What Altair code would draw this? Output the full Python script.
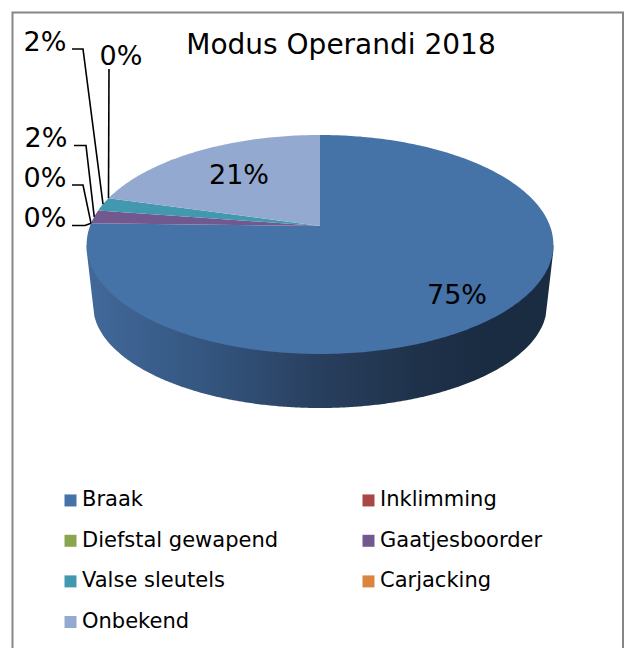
import numpy as np
import pandas as pd
import altair as alt

categories = ["Braak", "Inklimming", "Diefstal gewapend", "Gaatjesboorder",
              "Valse sleutels", "Carjacking", "Onbekend"]
values = [75.4, 0.0, 0.0, 2.0, 2.0, 0.0, 20.6]
colors = ["#4572A7", "#AA4643", "#89A54E", "#71588F", "#4198AF", "#DB843D", "#93A9CF"]
shown = ["75%", "0%", "0%", "2%", "2%", "0%", "21%"]

# layout of the drawing (perspective of the pie, and manual label placement)
CX, CY, A, B, K = 320.0, 226.0, 230.0, 106.4, 0.169
DEPTH_CY, DEPTH_RX, DEPTH_RY = 305.0, 227.0, 103.0
label_xy = {"Braak": (457, 296), "Inklimming": (45, 219), "Diefstal gewapend": (45, 179),
            "Gaatjesboorder": (46, 139), "Valse sleutels": (45, 43),
            "Carjacking": (121, 57), "Onbekend": (239, 176)}
leader_elbow = {"Inklimming": [(72, 225.5), (85, 225.5)],
                "Diefstal gewapend": [(72, 185), (83, 185)],
                "Gaatjesboorder": [(74, 145.5), (86, 145.5)],
                "Valse sleutels": [(72, 49), (83, 49)],
                "Carjacking": [(109, 69)]}


def rim(fraction):
    t = 2 * np.pi * fraction
    u, v = np.sin(t), -np.cos(t)
    d = 1 - K * v
    return CX + A * u / d, CY + B * v / d


def wedge_rows():
    rows, start = [], 0.0
    for name, val in zip(categories, values):
        end = start + val / 100
        fr = np.linspace(start, end, max(3, int(val * 4)))
        pts = [(CX, CY)] + [rim(f) for f in fr] + [(CX, CY)]
        rows += [{"name": name, "i": i, "x": p[0], "y": p[1]} for i, p in enumerate(pts)]
        start = end
    return pd.DataFrame(rows)


def leader_rows():
    rows, start = [], 0.0
    for name, val in zip(categories, values):
        mid = start + val / 200
        start += val / 100
        if name in leader_elbow:
            pts = leader_elbow[name] + [rim(mid)]
            rows += [{"name": name, "i": i, "x": p[0], "y": p[1]} for i, p in enumerate(pts)]
    return pd.DataFrame(rows)


def side_rows():
    xs = np.linspace(CX - 233.4, CX + 233.4, 240)
    rows = []
    for x in xs:
        dx = abs(x - CX)
        if dx < DEPTH_RX:
            low = DEPTH_CY + DEPTH_RY * np.sqrt(1 - (dx / DEPTH_RX) ** 2)
        else:
            low = DEPTH_CY - (dx - DEPTH_RX) / (233.4 - DEPTH_RX) * 55
        rows.append({"x": x, "y": 245.0, "y2": low})
    return pd.DataFrame(rows)


xs = alt.X("x:Q", scale=alt.Scale(domain=[8, 624], nice=False, zero=False), axis=None)
ys = alt.Y("y:Q", scale=alt.Scale(domain=[648, 8], nice=False, zero=False), axis=None)

side = alt.Chart(side_rows()).mark_area(
    color=alt.Gradient(gradient="linear", x1=0, x2=1, y1=0, y2=0, stops=[
        alt.GradientStop(offset=0, color="#42699b"),
        alt.GradientStop(offset=0.25, color="#345680"),
        alt.GradientStop(offset=0.5, color="#283f5e"),
        alt.GradientStop(offset=0.72, color="#1e3149"),
        alt.GradientStop(offset=0.85, color="#1a2c42"),
        alt.GradientStop(offset=1, color="#1a2c42")])
).encode(x=xs, y=ys, y2="y2:Q")

wedges = alt.Chart(wedge_rows()).mark_line(strokeWidth=0).encode(
    x=xs, y=ys, order="i:Q",
    detail="name:N",
    fill=alt.Fill("name:N",
                  scale=alt.Scale(domain=categories, range=colors),
                  legend=alt.Legend(orient="none", legendX=52, legendY=481.7, columns=2,
                                    direction="horizontal",
                                    title=None, symbolType="square", symbolSize=144,
                                    symbolStrokeWidth=0, symbolOpacity=1,
                                    labelFont="DejaVu Sans", labelFontSize=21,
                                    labelColor="#000000", labelOffset=1, labelLimit=300,
                                    columnPadding=79, rowPadding=18.6, padding=0)))

leaders = alt.Chart(leader_rows()).mark_line(color="#000000", strokeWidth=1.6).encode(
    x=xs, y=ys, order="i:Q", detail="name:N")

lab = pd.DataFrame([{"t": s, "x": label_xy[c][0], "y": label_xy[c][1]}
                    for c, s in zip(categories, shown)])
labels = alt.Chart(lab).mark_text(font="DejaVu Sans", fontSize=27, color="#000000").encode(
    x=xs, y=ys, text="t:N")

title = alt.Chart(pd.DataFrame([{"t": "Modus Operandi 2018", "x": 341, "y": 46}])).mark_text(
    font="DejaVu Sans", fontSize=28, color="#000000").encode(x=xs, y=ys, text="t:N")

border_df = pd.DataFrame({"i": [0, 1, 2, 3], "x": [12.5, 12.5, 623, 623],
                          "y": [648, 12.5, 12.5, 648]})
border = alt.Chart(border_df).mark_line(color="#868686", strokeWidth=2).encode(x=xs, y=ys, order="i:Q")

chart = alt.layer(side, wedges, leaders, labels, title, border).properties(
    width=616, height=640, padding=0, background="white",
    autosize=alt.AutoSizeParams(type="none", contains="content")
).configure_view(stroke=None)

chart.save("out.html", embed_options={"renderer": "svg", "actions": False})
